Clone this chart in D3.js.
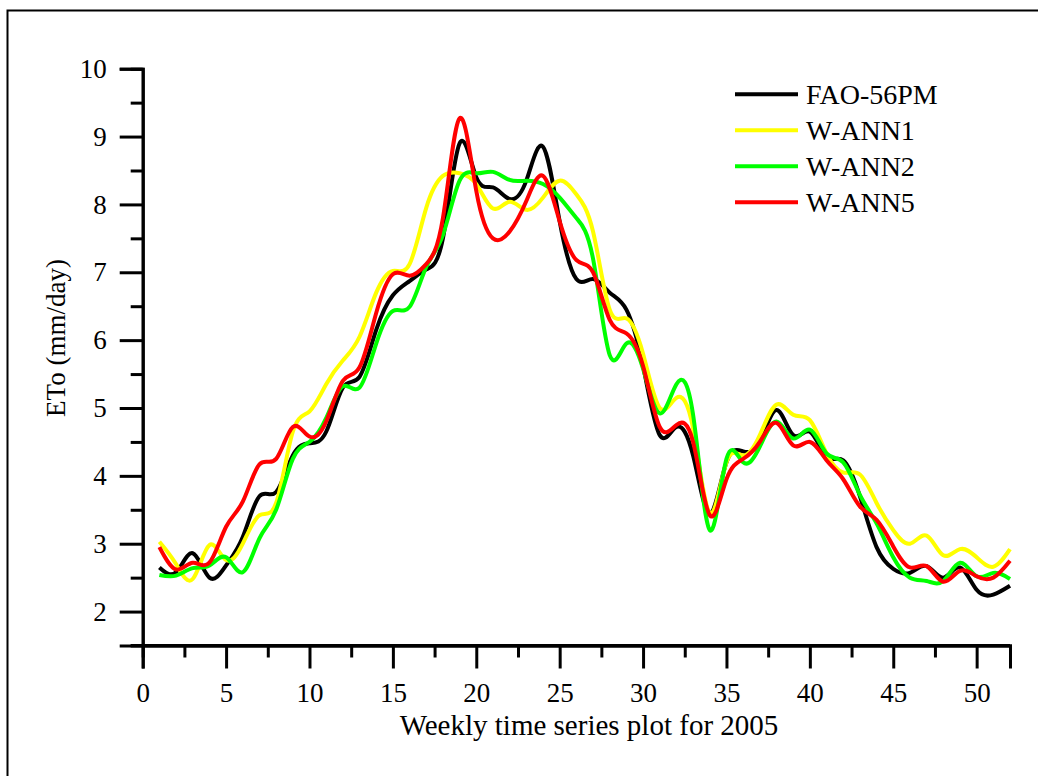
<!DOCTYPE html>
<html>
<head>
<meta charset="utf-8">
<script src="https://cdn.jsdelivr.net/npm/d3@7"></script>
<style>
  html, body { margin: 0; padding: 0; background: #fff; }
  svg { display: block; }
  text { font-family: "Liberation Serif", "Times New Roman", serif; fill: #000; }
</style>
</head>
<body>
<svg id="chart" width="1038" height="776"></svg>
<script>
// Weekly reference ETo (FAO-56 Penman-Monteith) and wavelet-ANN estimates, 2005
const weeks = d3.range(1, 53);

const fao56pm = [2.65, 2.58, 2.86, 2.50, 2.68, 3.10, 3.70, 3.76, 4.30, 4.48,
  4.65, 5.30, 5.46, 6.15, 6.66, 6.87, 7.04, 7.50, 8.90, 8.40,
  8.25, 8.08, 8.35, 8.85, 7.75, 6.90, 6.90, 6.70, 6.45, 5.62,
  4.60, 4.72, 4.30, 3.45, 4.20, 4.36, 4.50, 4.97, 4.60, 4.65,
  4.28, 4.23, 3.70, 2.95, 2.63, 2.57, 2.67, 2.50, 2.65, 2.32,
  2.25, 2.38];

const wann1 = [3.03, 2.70, 2.48, 2.98, 2.76, 3.00, 3.42, 3.60, 4.65, 4.95,
  5.35, 5.70, 6.05, 6.70, 7.02, 7.12, 7.95, 8.42, 8.46, 8.30,
  7.94, 8.04, 7.92, 8.10, 8.35, 8.15, 7.60, 6.45, 6.32, 5.80,
  5.00, 5.15, 4.70, 3.45, 4.20, 4.30, 4.60, 5.05, 4.90, 4.82,
  4.33, 4.05, 4.02, 3.60, 3.20, 3.00, 3.12, 2.83, 2.92, 2.80,
  2.66, 2.92];

const wann2 = [2.54, 2.53, 2.64, 2.68, 2.80, 2.58, 3.08, 3.50, 4.25, 4.50,
  4.85, 5.32, 5.30, 5.95, 6.43, 6.49, 7.08, 7.55, 8.35, 8.46,
  8.48, 8.36, 8.35, 8.30, 8.10, 7.80, 7.20, 5.78, 5.95, 5.58,
  4.92, 5.35, 4.90, 3.20, 4.25, 4.20, 4.43, 4.80, 4.55, 4.68,
  4.33, 4.20, 3.72, 3.30, 2.80, 2.50, 2.45, 2.45, 2.72, 2.52,
  2.57, 2.48];

const wann5 = [2.95, 2.62, 2.72, 2.72, 3.25, 3.62, 4.17, 4.25, 4.72, 4.58,
  4.80, 5.40, 5.60, 6.40, 6.97, 6.95, 7.12, 7.80, 9.27, 8.20,
  7.50, 7.60, 8.05, 8.42, 7.75, 7.18, 7.00, 6.30, 6.10, 5.62,
  4.72, 4.75, 4.50, 3.42, 3.95, 4.25, 4.50, 4.78, 4.45, 4.50,
  4.23, 3.95, 3.55, 3.35, 2.96, 2.65, 2.67, 2.44, 2.60, 2.52,
  2.50, 2.75];

const seriesNames = ["FAO-56PM", "W-ANN1", "W-ANN2", "W-ANN5"];
const seriesValues = [fao56pm, wann1, wann2, wann5];
const seriesColors = ["#000000", "#ffff00", "#00ff00", "#ff0000"];

const xTicks = [0, 5, 10, 15, 20, 25, 30, 35, 40, 45, 50];
const yTicks = [2, 3, 4, 5, 6, 7, 8, 9, 10];

const serif = "'Liberation Serif', 'Times New Roman', serif";
const svg = d3.select("#chart");

// outer frame
svg.append("rect")
  .attr("x", 7.5).attr("y", 10.5)
  .attr("width", 1040).attr("height", 800)
  .attr("fill", "none").attr("stroke", "#000").attr("stroke-width", 2);

const plot = { left: 142.7, right: 1010, top: 68.7, bottom: 645.5 };

const x = d3.scaleLinear().domain([0, 52]).range([plot.left, plot.right]);
const y = d3.scaleLinear().domain([1.5, 10]).range([plot.bottom, plot.top]);

// series lines (cubic spline through the weekly values)
const line = d3.line()
  .x((d, i) => x(weeks[i]))
  .y(d => y(d))
  .curve(d3.curveNatural);

svg.append("g")
  .selectAll("path")
  .data(seriesValues)
  .join("path")
  .attr("d", d => line(d))
  .attr("fill", "none")
  .attr("stroke", (d, i) => seriesColors[i])
  .attr("stroke-width", 4)
  .attr("stroke-linejoin", "round");

// y axis: major ticks every 1, minor every 0.5
const yAxisG = svg.append("g")
  .attr("transform", `translate(${plot.left},0)`)
  .call(d3.axisLeft(y).tickValues(yTicks).tickSize(23).tickPadding(13).tickFormat(d3.format("d")));
yAxisG.append("g")
  .call(d3.axisLeft(y).tickValues(d3.range(2.5, 10, 1)).tickSize(12).tickFormat(""));

// x axis: major ticks every 5, minor every 2.5
const xAxisG = svg.append("g")
  .attr("transform", `translate(0,${plot.bottom})`)
  .call(d3.axisBottom(x).tickValues(xTicks).tickSize(23).tickPadding(14).tickFormat(d3.format("d")));
xAxisG.append("g")
  .call(d3.axisBottom(x).tickValues(d3.range(2.5, 52, 5)).tickSize(12).tickFormat(""));

svg.selectAll(".domain").attr("stroke", "#000").attr("stroke-width", 3);
svg.selectAll(".tick line").attr("stroke", "#000").attr("stroke-width", 3);
svg.selectAll("g").filter(function () { return this.hasAttribute("font-family"); })
  .attr("font-family", serif);
svg.selectAll(".tick text")
  .attr("font-family", serif)
  .attr("font-size", 27).attr("fill", "#000");

// minor-tick groups need no axis line of their own
xAxisG.select("g").select(".domain").remove();
yAxisG.select("g").select(".domain").remove();

// x axis line runs a little past the y axis on the left
svg.append("line")
  .attr("x1", plot.left - 12).attr("x2", plot.right)
  .attr("y1", plot.bottom).attr("y2", plot.bottom)
  .attr("stroke", "#000").attr("stroke-width", 3);

// axis titles
svg.append("text")
  .attr("x", 589).attr("y", 735)
  .attr("text-anchor", "middle")
  .attr("font-family", serif)
  .attr("font-size", 29)
  .text("Weekly time series plot for 2005");

svg.append("text")
  .attr("transform", "translate(65,338) rotate(-90)")
  .attr("text-anchor", "middle")
  .attr("font-family", serif)
  .attr("font-size", 27)
  .text("ETo (mm/day)");

// legend
const legend = svg.append("g");
seriesNames.forEach((name, i) => {
  const ly = 94.3 + i * 36;
  legend.append("line")
    .attr("x1", 735).attr("x2", 798)
    .attr("y1", ly).attr("y2", ly)
    .attr("stroke", seriesColors[i]).attr("stroke-width", 4);
  legend.append("text")
    .attr("x", 806).attr("y", ly + 10)
    .attr("font-family", serif)
    .attr("font-size", 28)
    .text(name);
});
</script>
</body>
</html>
